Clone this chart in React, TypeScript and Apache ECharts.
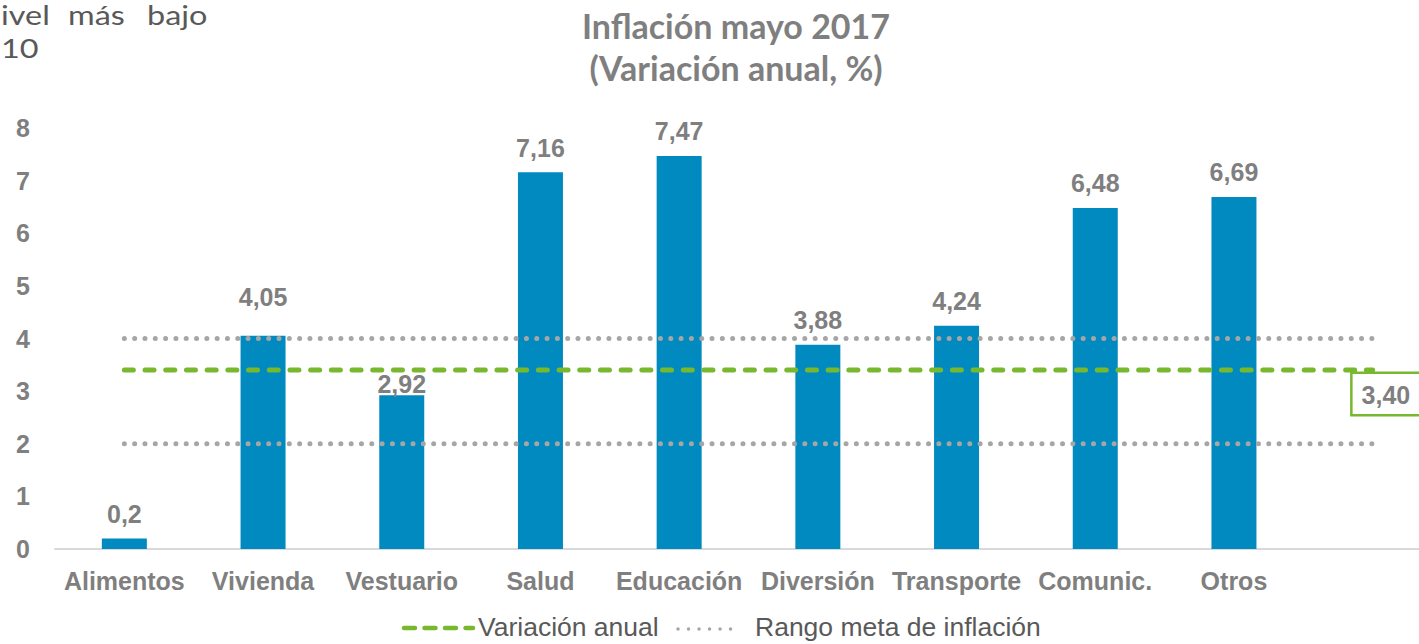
import React, { useEffect, useRef } from "react";
import * as echarts from "echarts";

const categories = ["Alimentos", "Vivienda", "Vestuario", "Salud", "Educación", "Diversión", "Transporte", "Comunic.", "Otros", ""];
const barValues: (number | null)[] = [0.2, 4.05, 2.92, 7.16, 7.47, 3.88, 4.24, 6.48, 6.69, null];
const annualVariation = [3.4, 3.4, 3.4, 3.4, 3.4, 3.4, 3.4, 3.4, 3.4, 3.4];
const targetLow = [2, 2, 2, 2, 2, 2, 2, 2, 2, 2];
const targetHigh = [4, 4, 4, 4, 4, 4, 4, 4, 4, 4];
const yTicks = { min: 0, max: 8, interval: 1 };
const titleLines = ["Inflación mayo 2017", "(Variación anual, %)"];
const legendNames = ["Variación anual", "Rango meta de inflación"];
const cornerWords = ["ivel", "más", "bajo"];
const cornerLine2 = "10";

// label nudges (vertical pixel shifts of some bar labels, as placed in the original)
const labelNudge: Record<number, number> = { 1: -14, 2: 13 };

const GRAY = "#7f7f7f";
const GREEN = "#77b82e";
const BLUE = "#008abf";
const DOT = "#a6a6a6";
const AXFONT = "'Liberation Sans', Arial, sans-serif";
const CORNER_FONT = "27px Lato, 'Open Sans', sans-serif";
const LEGEND_FONT = "26.5px 'Liberation Sans', Arial, sans-serif";

export default function App() {
  const ref = useRef<HTMLDivElement>(null);
  useEffect(() => {
    if (!ref.current) return;
    const chart = echarts.init(ref.current, null, { renderer: "svg" });
    const lastIdx = annualVariation.length - 1;
    const corner = (text: string, x: number, y: number) => ({
      type: "text",
      x,
      y,
      scaleX: 1.2,
      style: { text, font: CORNER_FONT, fill: "#595959" },
    });
    chart.setOption({
      animation: false,
      backgroundColor: "#ffffff",
      title: {
        text: titleLines.join("\n"),
        left: 731,
        top: -1,
        textAlign: "center",
        textStyle: {
          fontFamily: "Lato, 'Open Sans', sans-serif",
          fontWeight: "bold",
          fontSize: 34,
          lineHeight: 42,
          color: GRAY,
        },
      },
      graphic: [
        corner(cornerWords[0], 1, 1),
        corner(cornerWords[1], 68, 1),
        corner(cornerWords[2], 147, 1),
        corner(cornerLine2, 1, 34),
        // legend
        {
          type: "line",
          shape: { x1: 404, y1: 628, x2: 473, y2: 628 },
          style: { stroke: GREEN, lineWidth: 4.5, lineDash: [11, 9.5], lineCap: "round" },
        },
        {
          type: "text",
          x: 478,
          y: 627,
          style: { text: legendNames[0], font: LEGEND_FONT, fill: "#595959", verticalAlign: "middle" },
        },
        {
          type: "line",
          shape: { x1: 678, y1: 629, x2: 741, y2: 629 },
          style: { stroke: DOT, lineWidth: 3.5, lineDash: [0.01, 10.5], lineCap: "round" },
        },
        {
          type: "text",
          x: 755,
          y: 627,
          style: { text: legendNames[1], font: LEGEND_FONT, fill: "#595959", verticalAlign: "middle" },
        },
      ],
      grid: { left: 55, right: 8, top: 128, bottom: 95, containLabel: false },
      xAxis: {
        type: "category",
        data: categories,
        boundaryGap: true,
        axisLine: { show: true, lineStyle: { color: "#d9d9d9", width: 2 } },
        axisTick: { show: false },
        axisLabel: {
          margin: 19,
          interval: 0,
          fontFamily: AXFONT,
          fontWeight: "bold",
          fontSize: 25,
          color: GRAY,
        },
      },
      yAxis: {
        type: "value",
        min: yTicks.min,
        max: yTicks.max,
        interval: yTicks.interval,
        splitLine: { show: false },
        axisLine: { show: false },
        axisTick: { show: false },
        axisLabel: {
          margin: 25,
          fontFamily: AXFONT,
          fontWeight: "bold",
          fontSize: 25,
          color: GRAY,
        },
      },
      series: [
        {
          name: "Inflación",
          type: "bar",
          data: barValues.map((v, i) =>
            labelNudge[i] !== undefined ? { value: v, label: { offset: [0, labelNudge[i]] } } : v
          ),
          barWidth: 45,
          itemStyle: { color: BLUE },
          label: {
            show: true,
            position: "top",
            distance: 12,
            fontFamily: AXFONT,
            fontWeight: "bold",
            fontSize: 25,
            color: GRAY,
            formatter: (p: any) => String(p.value).replace(".", ","),
          },
          z: 1,
        },
        {
          name: legendNames[1],
          type: "line",
          data: targetHigh,
          symbol: "none",
          lineStyle: { color: DOT, width: 5, type: [0.01, 10.3], cap: "round" },
          itemStyle: { color: DOT },
          z: 3,
        },
        {
          name: legendNames[1],
          type: "line",
          data: targetLow,
          symbol: "none",
          lineStyle: { color: DOT, width: 5, type: [0.01, 10.3], cap: "round" },
          itemStyle: { color: DOT },
          z: 3,
        },
        {
          name: legendNames[0],
          type: "line",
          data: annualVariation.map((v, i) =>
            i === lastIdx
              ? {
                  value: v,
                  label: {
                    show: true,
                    position: [-20, 4],
                    formatter: (p: any) => Number(p.value).toFixed(2).replace(".", ","),
                    fontFamily: AXFONT,
                    fontWeight: "bold",
                    fontSize: 25,
                    color: GRAY,
                    backgroundColor: "#ffffff",
                    borderColor: GREEN,
                    borderWidth: 2.5,
                    padding: [8, 10, 7, 9],
                  },
                }
              : v
          ),
          symbol: "circle",
          symbolSize: 0.1,
          showSymbol: true,
          lineStyle: { color: GREEN, width: 5, type: [9, 11.7], cap: "round" },
          itemStyle: { color: GREEN },
          label: { show: false },
          z: 4,
        },
      ],
    });
    return () => chart.dispose();
  }, []);
  return (
    <div style={{ position: "fixed", left: 0, top: 0, width: 1419, height: 644, overflow: "hidden", background: "#fff" }}>
      <div ref={ref} style={{ width: 1450, height: 644 }} />
    </div>
  );
}
